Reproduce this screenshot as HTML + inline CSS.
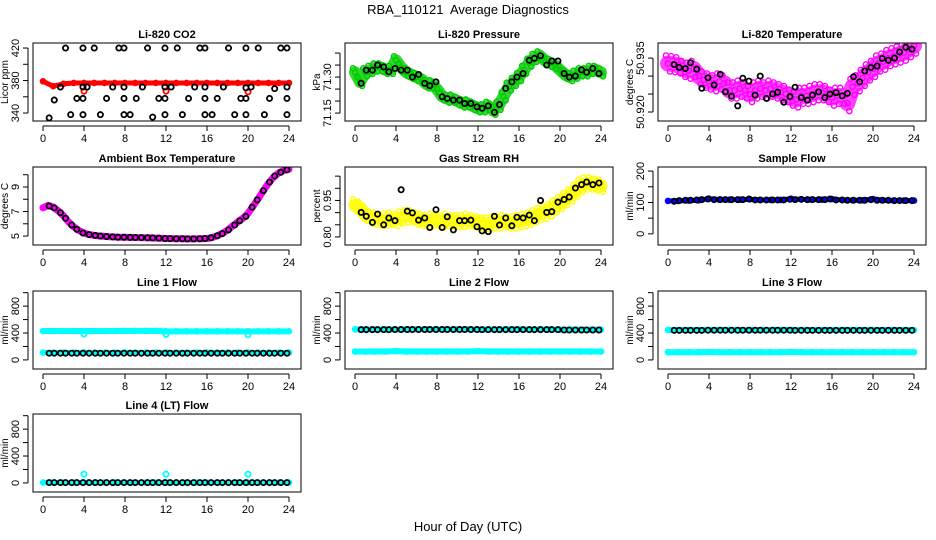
<!DOCTYPE html>
<html><head><meta charset="utf-8">
<style>
html,body{margin:0;padding:0;background:#fff;}
svg{display:block;font-family:"Liberation Sans",Arial,sans-serif;}
</style></head>
<body>
<svg id="chart" width="936" height="540" viewBox="0 0 936 540">
<rect width="936" height="540" fill="#fff"/>
<text x="468" y="14" text-anchor="middle" font-size="13" style="white-space:pre">RBA_110121  Average Diagnostics</text>
<text x="468" y="531" text-anchor="middle" font-size="13">Hour of Day (UTC)</text>
</svg>
<script>
const halfHours=[0,0.5,1,1.5,2,2.5,3,3.5,4,4.5,5,5.5,6,6.5,7,7.5,8,8.5,9,9.5,10,10.5,11,11.5,12,12.5,13,13.5,14,14.5,15,15.5,16,16.5,17,17.5,18,18.5,19,19.5,20,20.5,21,21.5,22,22.5,23,23.5,24];
const hours=[0,1,2,3,4,5,6,7,8,9,10,11,12,13,14,15,16,17,18,19,20,21,22,23,24];
const blackHours=[0.6,1.1,1.7,2.2,2.8,3.3,3.9,4.5,5.1,5.6,6.2,6.8,7.3,7.9,8.5,9.0,9.6,10.2,10.7,11.3,11.9,12.4,13.0,13.6,14.1,14.7,15.3,15.8,16.4,17.0,17.5,18.1,18.7,19.2,19.8,20.4,20.9,21.5,22.1,22.6,23.2,23.8];
const xTicks=[0,4,8,12,16,20,24];

const co2Red=[379,373,376,377,377,377,377,377,377,377,377,377,377,377,377,377,377,377,377,377,377,377,377,377,377];
const co2BlackHours=[0.6,1.1,1.7,2.2,2.7,3.3,3.9,3.9,3.9,3.9,4.3,5.0,5.6,6.2,6.8,7.4,7.9,7.9,7.9,7.9,8.5,9.1,9.7,10.2,10.7,11.3,11.9,11.9,11.9,11.9,12.5,13.1,13.6,14.2,14.8,15.3,15.8,15.8,15.8,15.8,16.5,17.0,17.6,18.1,18.7,19.3,19.8,19.8,19.8,19.8,20.3,21.0,21.6,22.1,22.6,23.2,23.8,23.8,23.8,23.8];
const co2Black=[334,356,372,420,338,358,420,358,338,372,372,420,338,358,372,420,420,372,358,338,338,358,372,420,335,358,358,372,338,420,372,420,338,358,372,420,420,372,358,338,338,358,372,420,338,358,420,358,338,371,372,420,338,358,370,420,420,372,358,338];
const co2OutlierHours=[4,12,20];
const co2Outliers=[367,367,366];

const pressGreen=[71.32,71.28,71.32,71.33,71.34,71.34,71.33,71.33,71.37,71.34,71.32,71.31,71.30,71.29,71.27,71.27,71.25,71.22,71.21,71.21,71.20,71.19,71.19,71.18,71.17,71.17,71.18,71.16,71.18,71.22,71.26,71.28,71.30,71.33,71.36,71.38,71.39,71.37,71.36,71.35,71.33,71.31,71.30,71.31,71.32,71.32,71.33,71.33,71.32];
const pressBlack=[71.274,71.329,71.329,71.35,71.342,71.322,71.336,71.329,71.329,71.30,71.311,71.274,71.264,71.28,71.218,71.211,71.204,71.204,71.19,71.19,71.176,71.17,71.18,71.153,71.186,71.253,71.28,71.30,71.315,71.37,71.378,71.389,71.35,71.367,71.367,71.315,71.30,71.304,71.33,71.32,71.336,71.315];

const tempMagenta=[50.9335,50.9333,50.933,50.932,50.9315,50.932,50.930,50.929,50.9285,50.928,50.9285,50.928,50.926,50.926,50.9265,50.926,50.925,50.926,50.9265,50.926,50.9265,50.926,50.9255,50.925,50.924,50.9235,50.9245,50.9245,50.925,50.9255,50.9255,50.925,50.924,50.9245,50.9245,50.9225,50.927,50.928,50.9295,50.931,50.932,50.9335,50.934,50.935,50.9355,50.936,50.9365,50.9375,50.9385];
const tempBlack=[50.9332,50.9324,50.9321,50.9337,50.9319,50.9266,50.9295,50.9275,50.9305,50.9256,50.9244,50.9217,50.9294,50.9286,50.9247,50.930,50.9238,50.925,50.9255,50.9227,50.9243,50.9269,50.924,50.9233,50.9247,50.9256,50.924,50.925,50.9254,50.9245,50.9252,50.9298,50.9284,50.9314,50.9324,50.9328,50.9349,50.9344,50.935,50.9367,50.938,50.9375];

const ambMagenta=[7.3,7.5,7.35,7.05,6.65,6.15,5.75,5.45,5.25,5.12,5.05,5.0,4.97,4.94,4.92,4.9,4.9,4.89,4.88,4.87,4.86,4.85,4.83,4.82,4.8,4.79,4.78,4.78,4.77,4.77,4.78,4.78,4.8,4.88,5.02,5.22,5.48,5.82,6.15,6.45,6.85,7.45,8.05,8.7,9.3,9.8,10.15,10.35,10.45];
const ambBlack=[7.45,7.3,6.9,6.45,5.9,5.55,5.25,5.12,5.05,5.0,4.96,4.93,4.9,4.9,4.89,4.88,4.87,4.86,4.85,4.83,4.8,4.79,4.78,4.78,4.77,4.77,4.78,4.8,4.86,5.02,5.2,5.5,5.9,6.25,6.6,7.35,7.95,8.7,9.4,9.9,10.2,10.4];

const rhYellow=[0.93,0.92,0.89,0.88,0.875,0.87,0.87,0.875,0.87,0.88,0.885,0.885,0.875,0.87,0.865,0.87,0.87,0.865,0.87,0.865,0.865,0.865,0.87,0.865,0.86,0.855,0.855,0.86,0.86,0.865,0.86,0.86,0.865,0.87,0.875,0.885,0.895,0.9,0.91,0.925,0.94,0.955,0.97,0.99,1.01,1.02,1.02,1.015,1.01];
const rhBlack=[0.901,0.885,0.860,0.894,0.850,0.878,0.867,0.994,0.906,0.899,0.869,0.878,0.839,0.912,0.839,0.883,0.829,0.867,0.867,0.869,0.842,0.825,0.822,0.885,0.849,0.878,0.846,0.881,0.878,0.890,0.867,0.95,0.901,0.904,0.943,0.954,0.964,1.001,1.015,1.026,1.015,1.022];

const sampleBlue=[105,105,106,107,112,109,109,109,110,108,108,108,112,110,109,109,111,108,107,107,111,107,106,106,106];
const sampleBlack=[104,106,107,107,108,109,111,109,109,109,109,109,109,111,108,108,108,108,108,108,110,109,110,109,109,109,109,111,108,108,107,107,107,107,109,107,107,107,106,106,106,106];

const l1CyanHigh=[430,430,430,430,430,430,430,430,432,432,432,432,425,425,425,425,425,425,425,425,425,425,425,425,425];
const l1CyanLow=[110,110,110,110,112,110,110,110,112,110,110,110,112,110,110,110,112,110,110,110,112,110,110,110,110];
const l1Black=[100,100,100,100,100,100,100,100,100,100,100,100,100,100,100,100,100,100,100,100,100,100,100,100,100,100,100,100,100,100,100,100,100,100,100,100,100,100,100,100,100,100];
const l1OutHours=[4,12,20];
const l1Out=[385,380,375];
const l2CyanHigh=[455,455,455,455,450,455,455,455,455,455,455,455,450,455,455,455,455,455,455,455,450,450,450,450,450];
const l2CyanLow=[125,125,125,125,130,125,125,125,125,125,125,125,130,125,125,125,125,125,125,125,125,125,125,125,125];
const l2Black=[450,450,450,450,450,450,452,452,452,452,452,452,452,452,452,452,452,452,452,452,452,450,450,450,450,450,450,450,450,450,450,450,450,450,450,445,445,445,445,445,445,445];
const l3CyanHigh=[445,445,445,445,445,445,445,445,445,445,445,445,445,445,445,445,445,445,445,445,445,445,445,445,445];
const l3CyanLow=[115,115,115,115,118,115,115,115,115,115,115,115,118,115,115,115,115,115,115,115,115,115,115,115,115];
const l3Black=[440,440,440,440,440,440,442,442,442,442,442,442,442,442,442,442,442,442,442,442,442,440,440,440,440,440,440,440,440,440,440,440,440,440,440,440,440,440,440,440,440,440];
const l4Cyan=[5,5,5,5,5,5,5,5,5,5,5,5,5,5,5,5,5,5,5,5,5,5,5,5,5];
const l4Black=[5,5,5,5,5,5,5,5,5,5,5,5,5,5,5,5,5,5,5,5,5,5,5,5,5,5,5,5,5,5,5,5,5,5,5,5,5,5,5,5,5,5];
const l4OutHours=[4,12,20];
const l4Out=[130,130,130];

const NS='http://www.w3.org/2000/svg';
const svg=document.getElementById('chart');
function mk(tag,attrs,parent){const e=document.createElementNS(NS,tag);for(const k in attrs)e.setAttribute(k,attrs[k]);(parent||svg).appendChild(e);return e;}

const colX0=[43,355,668];
const rowTop=[43,167,291,414];
const PW=246, BH=78;

function panel(name,col,row,cfg){
  const g=mk('g',{});
  
  
  const x0=colX0[col], top=rowTop[row], bot=top+BH;
  const left=x0-10, right=x0+PW+12;
  const xs=h=>x0+h/24*PW;
  const ys=v=>bot-(v-cfg.dom[0])/(cfg.dom[1]-cfg.dom[0])*BH;
  const t=mk('text',{x:(left+right)/2,y:top-5,'text-anchor':'middle','font-size':11,'font-weight':'bold'},g);
  t.textContent=cfg.title;
  
  
  const clip='clip-'+name;
  const cp=mk('clipPath',{id:clip},g);
  mk('rect',{x:left,y:top,width:right-left,height:BH},cp);
  const marks=mk('g',{'clip-path':'url(#'+clip+')'},g);
  (cfg.bands||[]).forEach((b,bi)=>{
    const pl=mk('polyline',{points:b.x.map((h,i)=>xs(h)+','+ys(b.y[i])).join(' '),fill:'none',stroke:b.color,'stroke-width':b.w,'stroke-linejoin':'round','stroke-linecap':'round','stroke-opacity':b.op||1},marks);
    
    
    b.x.forEach((h,i)=>{
      const c=mk('circle',{cx:xs(h),cy:ys(b.y[i]),r:2.6,fill:'none',stroke:b.color,'stroke-width':1.4},marks);
      
      
    });
    if(b.spread){
      [-1,1].forEach(s=>{
        b.x.forEach((h,i)=>{
          const c=mk('circle',{cx:xs(h)+s*2,cy:ys(b.y[i])+s*b.spread,r:2.6,fill:'none',stroke:b.color,'stroke-width':1.4},marks);
          
          
        });
      });
    }
  });
  (cfg.pts||[]).forEach(p=>{
    p.x.forEach((h,i)=>{
      const c=mk('circle',{cx:xs(h),cy:ys(p.y[i]),r:2.6,fill:'none',stroke:p.color,'stroke-width':1.8},marks);
      
      
    });
  });
  const box=mk('rect',{x:left,y:top,width:right-left,height:BH,fill:'none',stroke:'#000','stroke-width':1},g);
  
  
  mk('line',{x1:xs(0),x2:xs(24),y1:bot+5,y2:bot+5,stroke:'#000'},g);
  xTicks.forEach(h=>{
    mk('line',{x1:xs(h),x2:xs(h),y1:bot+5,y2:bot+10,stroke:'#000'},g);
    const l=mk('text',{x:xs(h),y:bot+21,'text-anchor':'middle','font-size':11},g);
    l.textContent=h;
    
    
  });
  const yt=cfg.ticks;
  mk('line',{x1:left-5,x2:left-5,y1:ys(yt[0]),y2:ys(yt[yt.length-1]),stroke:'#000'},g);
  yt.forEach(v=>mk('line',{x1:left-10,x2:left-5,y1:ys(v),y2:ys(v),stroke:'#000'},g));
  cfg.labels.forEach((v,i)=>{
    const yy=ys(v);
    const l=mk('text',{x:0,y:0,'text-anchor':'middle','font-size':11,transform:'translate('+(left-14)+','+yy+') rotate(-90)'},g);
    l.textContent=cfg.labelText[i];
    
    
  });
  const yl=mk('text',{x:0,y:0,'text-anchor':'middle','font-size':10,transform:'translate('+(left-25)+','+(top+BH/2)+') rotate(-90)'},g);
  yl.textContent=cfg.ylab;
  
  
}

panel('co2',0,0,{title:'Li-820 CO2',ylab:'Licor ppm',dom:[330.2,426.2],ticks:[340,360,380,400,420],labels:[340,380,420],labelText:['340','380','420'],
  bands:[{x:hours,y:co2Red,color:'#ff0000',w:5}],
  pts:[{x:co2OutlierHours,y:co2Outliers,color:'#ff0000'},{x:co2BlackHours,y:co2Black,color:'#000'}]});
panel('pressure',1,0,{title:'Li-820 Pressure',ylab:'kPa',dom:[71.117,71.442],ticks:[71.15,71.2,71.25,71.3,71.35,71.4],labels:[71.15,71.3],labelText:['71.15','71.30'],
  bands:[{x:halfHours,y:pressGreen,color:'#00cc00',w:12,op:0.8,spread:4}],
  pts:[{x:blackHours,y:pressBlack,color:'#000'}]});
panel('li820-temp',2,0,{title:'Li-820 Temperature',ylab:'degrees C',dom:[50.9175,50.9392],ticks:[50.92,50.925,50.93,50.935],labels:[50.92,50.935],labelText:['50.920','50.935'],
  bands:[{x:halfHours,y:tempMagenta,color:'#ff00ff',w:16,op:0.75,spread:8}],
  pts:[{x:blackHours,y:tempBlack,color:'#000'}]});
panel('ambient-temp',0,1,{title:'Ambient Box Temperature',ylab:'degrees C',dom:[4.27,10.63],ticks:[5,6,7,8,9,10],labels:[5,7,9],labelText:['5','7','9'],
  bands:[{x:halfHours,y:ambMagenta,color:'#ff00ff',w:7}],
  pts:[{x:blackHours,y:ambBlack,color:'#000'}]});
panel('rh',1,1,{title:'Gas Stream RH',ylab:'percent',dom:[0.767,1.0875],ticks:[0.8,0.85,0.9,0.95,1.0,1.05],labels:[0.8,0.95],labelText:['0.80','0.95'],
  bands:[{x:halfHours,y:rhYellow,color:'#ffff00',w:13,op:0.85,spread:6}],
  pts:[{x:blackHours,y:rhBlack,color:'#000'}]});
panel('sample-flow',2,1,{title:'Sample Flow',ylab:'ml/min',dom:[-35.5,213],ticks:[0,50,100,150,200],labels:[0,100,200],labelText:['0','100','200'],
  bands:[{x:hours,y:sampleBlue,color:'#0000ff',w:5}],
  pts:[{x:blackHours,y:sampleBlack,color:'#000'}]});
const flowCfg={ylab:'ml/min',dom:[-135,1025],ticks:[0,200,400,600,800,1000],labels:[0,400,800],labelText:['0','400','800']};
panel('line1-flow',0,2,Object.assign({title:'Line 1 Flow',
  bands:[{x:hours,y:l1CyanHigh,color:'#00ffff',w:6},{x:hours,y:l1CyanLow,color:'#00ffff',w:5}],
  pts:[{x:l1OutHours,y:l1Out,color:'#00ffff'},{x:blackHours,y:l1Black,color:'#000'}]},flowCfg));
panel('line2-flow',1,2,Object.assign({title:'Line 2 Flow',
  bands:[{x:hours,y:l2CyanHigh,color:'#00ffff',w:6},{x:hours,y:l2CyanLow,color:'#00ffff',w:6}],
  pts:[{x:blackHours,y:l2Black,color:'#000'}]},flowCfg));
panel('line3-flow',2,2,Object.assign({title:'Line 3 Flow',
  bands:[{x:hours,y:l3CyanHigh,color:'#00ffff',w:6},{x:hours,y:l3CyanLow,color:'#00ffff',w:6}],
  pts:[{x:blackHours,y:l3Black,color:'#000'}]},flowCfg));
panel('line4-flow',0,3,Object.assign({title:'Line 4 (LT) Flow',
  bands:[{x:hours,y:l4Cyan,color:'#00ffff',w:5}],
  pts:[{x:l4OutHours,y:l4Out,color:'#00ffff'},{x:blackHours,y:l4Black,color:'#000'}]},flowCfg));
</script>
</body></html>
